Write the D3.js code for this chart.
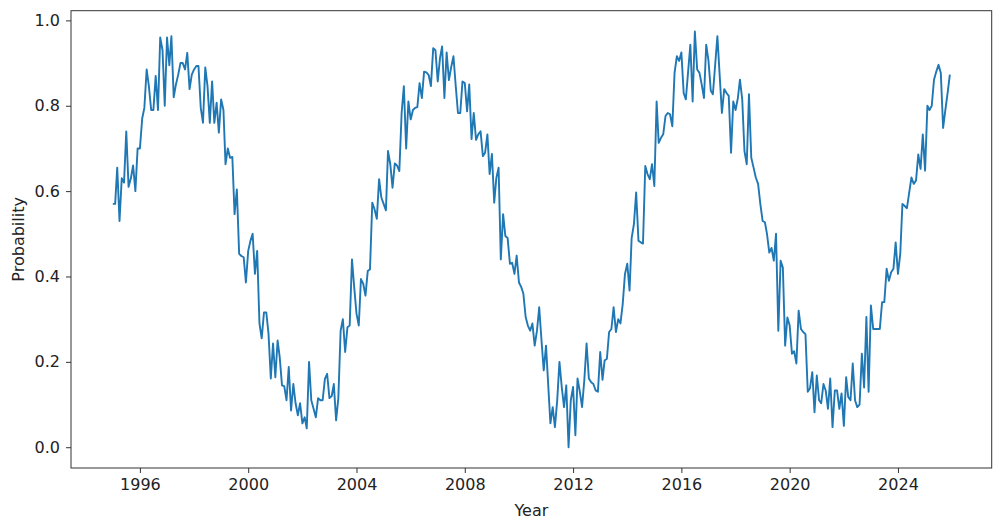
<!DOCTYPE html>
<html>
<head>
<meta charset="utf-8">
<script src="https://cdn.jsdelivr.net/npm/d3@7"></script>
<style>
  body { margin: 0; background: #fff; }
  text { font-family: "DejaVu Sans", sans-serif; fill: #222; }
</style>
</head>
<body>
<svg id="chart" width="1003" height="526"></svg>
<script>
// monthly series, Jan 1995 .. Dec 2025
var startYear = 1995;
var probability = [
  0.57, 0.57, 0.655, 0.53, 0.63, 0.62, 0.74, 0.61, 0.63, 0.66, 0.60, 0.70,
  0.70, 0.77, 0.795, 0.885, 0.846, 0.79, 0.79, 0.87, 0.79, 0.96, 0.93, 0.80,
  0.96, 0.895, 0.963, 0.82, 0.85, 0.873, 0.90, 0.90, 0.885, 0.924, 0.839, 0.873,
  0.885, 0.893, 0.893, 0.795, 0.76, 0.89, 0.846, 0.76, 0.857, 0.76, 0.807, 0.737,
  0.815, 0.79, 0.663, 0.70, 0.678, 0.68, 0.546, 0.604, 0.453, 0.448, 0.445, 0.386,
  0.46, 0.484, 0.50, 0.406, 0.46, 0.29, 0.255, 0.316, 0.316, 0.266, 0.161, 0.243,
  0.164, 0.25, 0.211, 0.145, 0.143, 0.11, 0.188, 0.086, 0.148, 0.103, 0.075, 0.103,
  0.056, 0.07, 0.044, 0.20, 0.11, 0.09, 0.07, 0.115, 0.11, 0.11, 0.16, 0.172,
  0.115, 0.12, 0.148, 0.063, 0.115, 0.273, 0.30, 0.223, 0.281, 0.285, 0.44, 0.375,
  0.313, 0.285, 0.394, 0.383, 0.355, 0.413, 0.417, 0.573, 0.557, 0.535, 0.628, 0.585,
  0.57, 0.555, 0.694, 0.663, 0.608, 0.665, 0.66, 0.647, 0.783, 0.846, 0.70, 0.81,
  0.768, 0.79, 0.795, 0.797, 0.853, 0.818, 0.88, 0.878, 0.872, 0.846, 0.935, 0.93,
  0.857, 0.912, 0.939, 0.818, 0.925, 0.86, 0.89, 0.916, 0.846, 0.783, 0.783, 0.857,
  0.853, 0.787, 0.85, 0.722, 0.783, 0.72, 0.733, 0.74, 0.682, 0.69, 0.733, 0.64,
  0.687, 0.573, 0.63, 0.655, 0.44, 0.546, 0.495, 0.49, 0.43, 0.432, 0.406, 0.449,
  0.386, 0.375, 0.36, 0.305, 0.285, 0.273, 0.29, 0.238, 0.273, 0.328, 0.25, 0.18,
  0.238, 0.141, 0.056, 0.094, 0.047, 0.11, 0.20, 0.141, 0.094, 0.145, 0.0, 0.11,
  0.141, 0.028, 0.161, 0.13, 0.094, 0.158, 0.243, 0.161, 0.152, 0.148, 0.133, 0.13,
  0.223, 0.158, 0.203, 0.207, 0.27, 0.277, 0.328, 0.27, 0.30, 0.29, 0.336, 0.406,
  0.43, 0.367, 0.49, 0.523, 0.597, 0.484, 0.48, 0.477, 0.659, 0.64, 0.628, 0.663,
  0.612, 0.81, 0.713, 0.725, 0.733, 0.776, 0.783, 0.78, 0.752, 0.877, 0.916, 0.905,
  0.925, 0.83, 0.815, 0.88, 0.943, 0.81, 0.974, 0.885, 0.877, 0.85, 0.818, 0.943,
  0.905, 0.835, 0.827, 0.896, 0.963, 0.87, 0.783, 0.839, 0.83, 0.823, 0.69, 0.81,
  0.79, 0.818, 0.861, 0.815, 0.694, 0.663, 0.827, 0.678, 0.655, 0.632, 0.617, 0.57,
  0.53, 0.527, 0.50, 0.456, 0.467, 0.437, 0.50, 0.273, 0.437, 0.421, 0.238, 0.304,
  0.285, 0.219, 0.225, 0.196, 0.32, 0.277, 0.27, 0.265, 0.13, 0.138, 0.176, 0.082,
  0.168, 0.11, 0.103, 0.148, 0.133, 0.09, 0.161, 0.047, 0.133, 0.133, 0.09, 0.126,
  0.05, 0.164, 0.118, 0.11, 0.196, 0.11, 0.094, 0.10, 0.219, 0.14, 0.305, 0.13,
  0.332, 0.277, 0.277, 0.277, 0.277, 0.34, 0.34, 0.418, 0.39, 0.41, 0.418, 0.48,
  0.406, 0.453, 0.57, 0.565, 0.56, 0.597, 0.632, 0.617, 0.625, 0.686, 0.652, 0.733,
  0.648, 0.80, 0.79, 0.80, 0.861, 0.88, 0.896, 0.877, 0.748, 0.79, 0.83, 0.873
];
var yTicks = [0.0, 0.2, 0.4, 0.6, 0.8, 1.0];
var xTickStep = 4; // years between labels

// build the table of points
var data = probability.map(function(v, i) {
  return { date: new Date(startYear, i, 1), value: v };
});

var svg = d3.select("#chart");
var margin = { left: 71, top: 10.7, right: 11.3, bottom: 58 };
var width = 1003 - margin.left - margin.right;
var height = 526 - margin.top - margin.bottom;

var g = svg.append("g")
  .attr("transform", "translate(" + margin.left + "," + margin.top + ")");

// 5% padding on both axes, like matplotlib
var xExt = d3.extent(data, d => d.date);
var xPad = (xExt[1] - xExt[0]) * 0.05;
var x = d3.scaleTime()
  .domain([new Date(+xExt[0] - xPad), new Date(+xExt[1] + xPad)])
  .range([0, width]);

var yExt = d3.extent(data, d => d.value);
var yPad = (yExt[1] - yExt[0]) * 0.05;
var y = d3.scaleLinear()
  .domain([yExt[0] - yPad, yExt[1] + yPad])
  .range([height, 0]);

// axes
var xAxis = g.append("g")
  .attr("transform", "translate(0," + height + ")")
  .call(d3.axisBottom(x)
    .ticks(d3.timeYear.every(xTickStep))
    .tickFormat(d3.timeFormat("%Y"))
    .tickSizeOuter(0)
    .tickSize(5)
    .tickPadding(6));

var yAxis = g.append("g")
  .call(d3.axisLeft(y)
    .tickValues(yTicks)
    .tickFormat(d3.format(".1f"))
    .tickSizeOuter(0)
    .tickSize(5)
    .tickPadding(6));

[xAxis, yAxis].forEach(function(a) {
  a.select(".domain").remove();
  a.selectAll(".tick line").attr("stroke", "#333").attr("stroke-width", 1);
  a.selectAll(".tick text").style("font-size", "16px").attr("fill", "#222");
});

// the line
var line = d3.line()
  .x(d => x(d.date))
  .y(d => y(d.value));

g.append("path")
  .datum(data)
  .attr("fill", "none")
  .attr("stroke", "#1f77b4")
  .attr("stroke-width", 1.9)
  .attr("stroke-linejoin", "round")
  .attr("d", line);

// frame
g.append("rect")
  .attr("width", width)
  .attr("height", height)
  .attr("fill", "none")
  .attr("stroke", "#333")
  .attr("stroke-width", 1);

// axis labels
svg.append("text")
  .attr("x", margin.left + width / 2)
  .attr("y", 516)
  .attr("text-anchor", "middle")
  .style("font-size", "16px")
  .text("Year");

svg.append("text")
  .attr("transform", "translate(24," + (margin.top + height / 2) + ") rotate(-90)")
  .attr("text-anchor", "middle")
  .style("font-size", "16px")
  .text("Probability");
</script>
</body>
</html>
